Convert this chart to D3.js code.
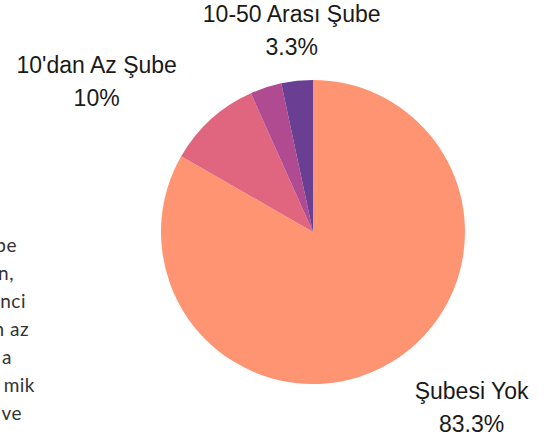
<!DOCTYPE html>
<html>
<head>
<meta charset="utf-8">
<script src="https://cdn.jsdelivr.net/npm/d3@7"></script>
<style>
  body { margin: 0; background: #fff; }
  svg { display: block; }
</style>
</head>
<body>
<div id="chart"></div>
<script>
var svgWidth = 548;
var svgHeight = 437;

// slices, clockwise from 12 o'clock
var categories = ["Şubesi Yok", "10'dan Az Şube", "", "10-50 Arası Şube"];
var values = [83.3, 10, 3.35, 3.35];
var valueLabels = ["83.3%", "10%", "", "3.3%"];
var colors = ["#ff9473", "#e0657f", "#b04b91", "#6a3f93"];

// clipped paragraph from the page behind the chart
var sideText = ["be", "n,", "nci", "n az", "a", "mik", "ve"];
var sideRight = [17, 14, 26, 29, 12, 35, 22];

var cx = 313, cy = 232, radius = 152;
var labelRadius = radius + 51;

var svg = d3.select("#chart")
  .append("svg")
  .attr("width", svgWidth)
  .attr("height", svgHeight);

var chartGroup = svg.append("g")
  .attr("transform", `translate(${cx}, ${cy})`);

var pie = d3.pie().sort(null).value(d => d);
var arcs = pie(values);

var arc = d3.arc().innerRadius(0).outerRadius(radius);

chartGroup.selectAll("path")
  .data(arcs)
  .enter()
  .append("path")
  .attr("d", arc)
  .attr("fill", (d, i) => colors[i]);

// outside labels
arcs.forEach(function(d, i) {
  if (!categories[i]) return;
  var a = (d.startAngle + d.endAngle) / 2;
  var s = Math.sin(a), c = Math.cos(a);

  var g = chartGroup.append("g")
    .attr("font-family", "'Liberation Sans', Arial, sans-serif")
    .attr("font-size", "23px")
    .attr("fill", "#1a1a1a")
    .attr("text-anchor", "middle");

  var t1 = g.append("text").attr("y", -8.5).text(categories[i]);
  g.append("text").attr("y", 24.5).text(valueLabels[i]);

  var w = t1.node().getComputedTextLength();
  var dx = Math.abs(s) > 0.3 ? Math.sign(s) * w / 2 : 0;
  g.attr("transform", `translate(${labelRadius * s + dx}, ${-labelRadius * c})`);
});

// left side text fragments
svg.append("g")
  .selectAll("text")
  .data(sideText)
  .enter()
  .append("text")
  .attr("x", (d, i) => sideRight[i])
  .attr("y", (d, i) => 252 + i * 28)
  .attr("text-anchor", "end")
  .attr("font-family", "Lato, sans-serif")
  .attr("font-size", "19px")
  .attr("letter-spacing", "0.5px")
  .attr("fill", "#333")
  .text(d => d);
</script>
</body>
</html>
